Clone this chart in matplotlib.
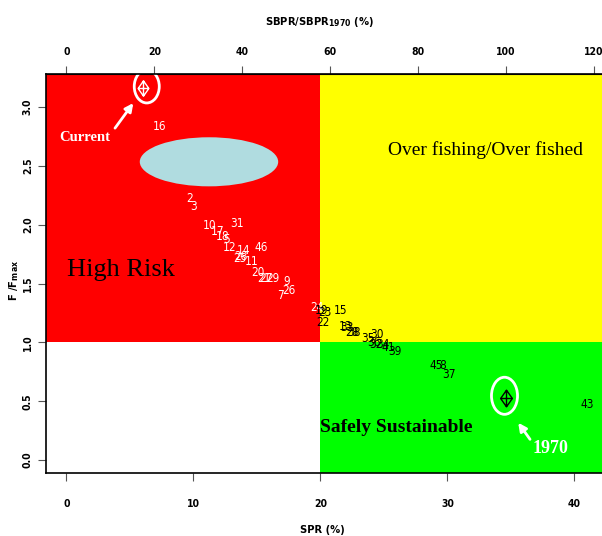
import matplotlib
matplotlib.use("Agg")
import matplotlib.pyplot as plt
from matplotlib import font_manager
from matplotlib.font_manager import FontProperties
from matplotlib.patches import Rectangle, Ellipse
from matplotlib.path import Path

# ---- data -------------------------------------------------------------
year_labels = ["16", "2", "3", "10", "31", "17", "18", "5", "12", "46",
               "14", "25", "28", "11", "20", "21", "27", "29", "9", "26",
               "7", "24", "19", "23", "22", "15", "13", "33", "28", "38",
               "35", "30", "36", "32", "34", "41", "39", "45", "8", "37",
               "43"]
spr = [7.36, 9.72, 10.00, 11.24, 13.40, 11.87, 12.30, 12.56, 12.80, 15.31,
       13.92, 13.66, 13.74, 14.58, 15.10, 15.55, 15.71, 16.24, 17.34, 17.54,
       16.87, 19.70, 20.12, 20.35, 20.17, 21.61, 22.00, 22.06, 22.50, 22.66,
       23.72, 24.47, 24.21, 24.37, 24.94, 25.34, 25.87, 29.09, 29.60, 30.14,
       41.00]
f_ratio = [2.83, 2.22, 2.15, 1.99, 2.01, 1.94, 1.90, 1.87, 1.81, 1.81,
           1.78, 1.71, 1.73, 1.69, 1.59, 1.54, 1.54, 1.54, 1.52, 1.44,
           1.40, 1.30, 1.27, 1.25, 1.17, 1.27, 1.135, 1.13, 1.08, 1.08,
           1.035, 1.07, 0.995, 0.98, 0.98, 0.96, 0.92, 0.80, 0.80, 0.73,
           0.476]

current_spr, current_f = 6.02, 3.16
ref_spr, ref_f = 34.6, 0.525        # 1970 reference point

spr_limit = 20.0                     # SPR reference point (%)
f_limit = 1.0                        # F / Fmax = 1

x_ticks = [0, 10, 20, 30, 40]
y_ticks = [0.0, 0.5, 1.0, 1.5, 2.0, 2.5, 3.0]
top_ticks = [0, 20, 40, 60, 80, 100, 120]

# ---- fonts ------------------------------------------------------------
NARROW_STRETCH = ("condensed", "extra-condensed", "ultra-condensed", "semi-condensed")


def find_narrow(bold):
    best = None
    for f in font_manager.fontManager.ttflist:
        name = f.name.lower()
        narrowish = ("narrow" in name or "condensed" in name
                     or str(f.stretch).lower() in NARROW_STRETCH
                     or "condensed" in f.fname.lower() or "narrow" in f.fname.lower())
        if not narrowish or f.style != "normal":
            continue
        w = f.weight if isinstance(f.weight, int) else (700 if "bold" in str(f.weight) else 400)
        is_bold = w >= 600
        if is_bold != bold:
            continue
        score = 0
        if "condensed" in f.fname.lower() and "semi" not in f.fname.lower():
            score += 2
        if "sans" in name:
            score += 1
        if best is None or score > best[0]:
            best = (score, f.fname)
    if best:
        return FontProperties(fname=best[1])
    return FontProperties(family="DejaVu Sans", weight="bold" if bold else "normal")


narrow_reg = find_narrow(False)
narrow_bold = find_narrow(True)
serif = "Liberation Serif"


def fp(base, size):
    p = base.copy()
    p.set_size(size)
    return p


# ---- figure -----------------------------------------------------------
W, H = 602, 536
fig = plt.figure(figsize=(W / 100, H / 100), dpi=100)
fig.patch.set_facecolor("white")

left_px, right_px, top_px, bot_px = 46, 608, 74, 473
ax = fig.add_axes([left_px / W, (H - bot_px) / H,
                   (right_px - left_px) / W, (bot_px - top_px) / H])
xmin, xmax = -1.614, 42.64
ymin, ymax = -0.11, 3.28
ax.set_xlim(xmin, xmax)
ax.set_ylim(ymin, ymax)

# stock-status zones
ax.add_patch(Rectangle((xmin, f_limit), spr_limit - xmin, ymax - f_limit,
                       facecolor="#FF0000", edgecolor="none", zorder=0))
ax.add_patch(Rectangle((spr_limit, f_limit), xmax - spr_limit, ymax - f_limit,
                       facecolor="#FFFF00", edgecolor="none", zorder=0))
ax.add_patch(Rectangle((spr_limit, ymin), xmax - spr_limit, f_limit - ymin,
                       facecolor="#00FF00", edgecolor="none", zorder=0))

# highlighted cluster
ax.add_patch(Ellipse((11.22, 2.534), 10.9, 0.417, facecolor="#B0DCE0",
                     edgecolor="none", zorder=1))

# year labels
for lab, x, y in zip(year_labels, spr, f_ratio):
    col = "white" if (x < spr_limit and y > f_limit) else "black"
    ax.text(x, y, lab, ha="center", va="center", fontproperties=fp(narrow_reg, 8.5),
            color=col, zorder=3)

# diamond-plus marker
dp_verts = [(0, 1), (0.7, 0), (0, -1), (-0.7, 0), (0, 1),
            (0, 1), (0, -1), (-0.7, 0), (0.7, 0)]
dp_codes = [Path.MOVETO, Path.LINETO, Path.LINETO, Path.LINETO, Path.CLOSEPOLY,
            Path.MOVETO, Path.LINETO, Path.MOVETO, Path.LINETO]
diamond_plus = Path(dp_verts, dp_codes)

ax.plot([current_spr], [current_f], marker=diamond_plus, markersize=11,
        markerfacecolor="none", markeredgecolor="white", markeredgewidth=1.0,
        linestyle="none", zorder=4)
ax.plot([ref_spr], [ref_f], marker=diamond_plus, markersize=12,
        markerfacecolor="none", markeredgecolor="black", markeredgewidth=1.0,
        linestyle="none", zorder=4)

# circles around current and 1970 points
ax.add_patch(Ellipse((6.32, 3.174), 1.97, 0.28, facecolor="none",
                     edgecolor="white", linewidth=2, zorder=4))
ax.add_patch(Ellipse((34.49, 0.546), 2.05, 0.315, facecolor="none",
                     edgecolor="white", linewidth=2, zorder=4))

# arrows
arrow = dict(arrowstyle="-|>", color="white", lw=2, mutation_scale=12,
             shrinkA=0, shrinkB=0)
ax.annotate("", xy=(5.26, 3.033), xytext=(3.82, 2.82), arrowprops=arrow, zorder=5)
ax.annotate("", xy=(35.57, 0.317), xytext=(36.5, 0.176), arrowprops=arrow, zorder=5)

# zone / point annotations
ax.text(1.46, 2.74, "Current", family=serif, fontweight="bold", fontsize=10.5,
        color="white", ha="center", va="center", zorder=5)
ax.text(38.07, 0.094, "1970", family=serif, fontweight="bold", fontsize=13,
        color="white", ha="center", va="center", zorder=5)
ax.text(33.03, 2.636, "Over fishing/Over fished", family=serif, fontsize=14,
        color="black", ha="center", va="center", zorder=5)
ax.text(4.29, 1.616, "High Risk", family=serif, fontsize=19,
        color="black", ha="center", va="center", zorder=5)
ax.text(25.98, 0.28, "Safely Sustainable", family=serif, fontweight="bold",
        fontsize=14, color="black", ha="center", va="center", zorder=5)

# axes styling
for side in ("left", "bottom", "top", "right"):
    ax.spines[side].set_color("black")
    ax.spines[side].set_linewidth(1.2)
    ax.spines[side].set_zorder(6)

tick_fp = fp(narrow_bold, 7.5)
ax.set_xticks(x_ticks)
ax.set_xticklabels([str(t) for t in x_ticks], fontproperties=tick_fp)
ax.set_yticks(y_ticks)
ax.set_yticklabels([f"{t:.1f}" for t in y_ticks], rotation=90, va="center",
                   fontproperties=tick_fp)
ax.tick_params(axis="x", length=6, width=0.8, color="#555555", pad=12.5)
ax.tick_params(axis="y", length=6, width=0.8, color="#555555", pad=3.5)


def spr_to_pct(x):
    return x / ref_spr * 100.0


def pct_to_spr(p):
    return p * ref_spr / 100.0


top = ax.secondary_xaxis("top", functions=(spr_to_pct, pct_to_spr))
top.set_xticks(top_ticks)
top.set_xticklabels([str(t) for t in top_ticks], fontproperties=tick_fp)
top.tick_params(axis="x", length=6, width=0.8, color="#555555", pad=6)

# axis titles
title_fp = fp(narrow_bold, 8)
fig.text(320 / W, 1 - 22 / H, r"SBPR/SBPR$_{\mathbf{1970}}$ (%)",
         fontproperties=title_fp, ha="center", va="center")
fig.text(322 / W, 1 - 530 / H, "SPR (%)", fontproperties=title_fp,
         ha="center", va="center")
fig.text(14 / W, 1 - 280 / H, r"F /F$_{\mathbf{max}}$", fontproperties=title_fp,
         ha="center", va="center", rotation=90)

fig.savefig("out.png", dpi=100)
